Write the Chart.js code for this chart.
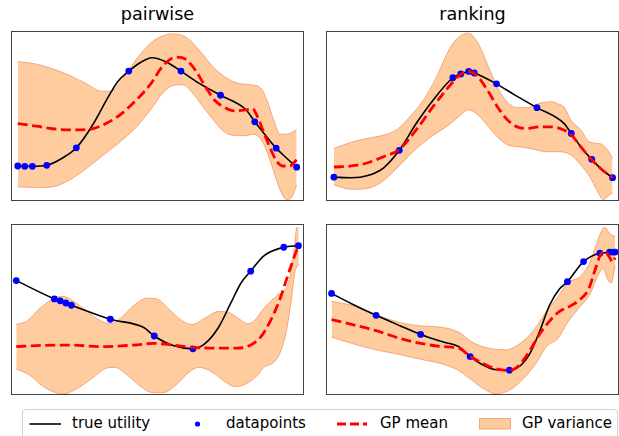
<!DOCTYPE html>
<html>
<head>
<meta charset="utf-8">
<script src="https://cdn.jsdelivr.net/npm/chart.js@4"></script>
<style>
html,body{margin:0;padding:0;background:#fff;width:619px;height:436px;overflow:hidden;position:relative;font-family:"DejaVu Sans",sans-serif;}
.panel{position:absolute;}
.title{position:absolute;font-size:17.6px;line-height:20px;color:#000;white-space:nowrap;transform:translateX(-50%);}
#legend{position:absolute;left:22px;top:409px;width:596px;height:40px;border:1px solid #d0d0d0;border-radius:4px;background:#fff;box-sizing:border-box;}
.ltxt{position:absolute;font-size:15px;line-height:20px;top:3px;color:#000;white-space:nowrap;}
svg{position:absolute;}
</style>
</head>
<body>
<div class="title" style="left:157.5px;top:4px;">pairwise</div>
<div class="title" style="left:472.5px;top:4px;">ranking</div>
<div class="panel" style="left:7px;top:27px;"><canvas id="tl" width="301" height="178"></canvas></div>
<div class="panel" style="left:322px;top:27px;"><canvas id="tr" width="301" height="178"></canvas></div>
<div class="panel" style="left:7px;top:220px;"><canvas id="bl" width="301" height="179"></canvas></div>
<div class="panel" style="left:322px;top:220px;"><canvas id="br" width="301" height="179"></canvas></div>
<div id="legend">
  <svg style="left:6px;top:0px;" width="34" height="30"><line x1="0.5" y1="14" x2="32" y2="14" stroke="#000" stroke-width="1.6"/></svg>
  <div class="ltxt" style="left:49px;">true utility</div>
  <svg style="left:170px;top:0px;" width="10" height="30"><circle cx="4.5" cy="14" r="2.6" fill="#0000ff"/></svg>
  <div class="ltxt" style="left:203px;">datapoints</div>
  <svg style="left:314px;top:0px;" width="32" height="30"><line x1="0" y1="14" x2="30" y2="14" stroke="#ff0000" stroke-width="2.8" stroke-dasharray="9,4"/></svg>
  <div class="ltxt" style="left:357px;">GP mean</div>
  <svg style="left:456px;top:0px;" width="34" height="30"><rect x="0.5" y="8.5" width="31" height="10.5" fill="rgb(255,204,160)" stroke="rgba(240,150,100,0.8)" stroke-width="1"/></svg>
  <div class="ltxt" style="left:499px;">GP variance</div>
</div>
<script>
// ---------- data (x, y as fractions of each panel's axes range) ----------
// pairwise, top (tl)
const tlDotX  = [0.023,0.047,0.073,0.122,0.223,0.402,0.580,0.715,0.832,0.905,0.975];
const tlDotY  = [0.206,0.204,0.204,0.210,0.313,0.764,0.764,0.622,0.466,0.311,0.199];
const tlTrueX = [0.023,0.073,0.122,0.176,0.223,0.276,0.331,0.364,0.402,0.442,0.481,0.530,0.580,0.641,0.715,0.802,0.832,0.868,0.905,0.940,0.975];
const tlTrueY = [0.206,0.204,0.210,0.253,0.313,0.440,0.609,0.702,0.764,0.815,0.843,0.818,0.764,0.693,0.622,0.537,0.466,0.388,0.311,0.253,0.199];
const tlMeanX = [0.023,0.087,0.143,0.198,0.265,0.309,0.364,0.420,0.475,0.519,0.564,0.597,0.630,0.663,0.697,0.730,0.763,0.796,0.824,0.841,0.863,0.885,0.907,0.929,0.951,0.975];
const tlMeanY = [0.455,0.440,0.425,0.418,0.421,0.444,0.496,0.581,0.684,0.796,0.846,0.833,0.768,0.674,0.590,0.549,0.530,0.534,0.543,0.496,0.403,0.309,0.234,0.206,0.206,0.243];
const tlUpX   = [0.023,0.087,0.143,0.198,0.254,0.309,0.342,0.375,0.420,0.464,0.508,0.553,0.597,0.641,0.686,0.730,0.774,0.818,0.852,0.874,0.896,0.918,0.940,0.975];
const tlUpY   = [0.820,0.805,0.777,0.740,0.693,0.646,0.646,0.702,0.815,0.908,0.964,0.983,0.964,0.890,0.796,0.730,0.693,0.684,0.665,0.590,0.478,0.393,0.393,0.418];
const tlLoX   = [0.023,0.087,0.143,0.198,0.254,0.309,0.364,0.420,0.475,0.519,0.553,0.586,0.619,0.652,0.686,0.719,0.752,0.796,0.829,0.852,0.874,0.896,0.918,0.940,0.957,0.975];
const tlLoY   = [0.084,0.079,0.084,0.122,0.187,0.262,0.337,0.421,0.534,0.637,0.680,0.684,0.637,0.562,0.487,0.421,0.388,0.384,0.393,0.365,0.290,0.178,0.066,0.009,0.019,0.094];
// ranking, top (tr)
const trDotX  = [0.027,0.250,0.433,0.460,0.487,0.506,0.582,0.720,0.837,0.907,0.978];
const trDotY  = [0.140,0.298,0.725,0.747,0.762,0.753,0.689,0.549,0.397,0.245,0.137];
const trTrueX = [0.027,0.087,0.143,0.198,0.250,0.309,0.364,0.433,0.460,0.487,0.506,0.582,0.641,0.720,0.813,0.837,0.874,0.907,0.940,0.978];
const trTrueY = [0.140,0.137,0.150,0.197,0.298,0.459,0.590,0.725,0.747,0.762,0.753,0.689,0.627,0.549,0.455,0.397,0.309,0.245,0.187,0.137];
const trMeanX = [0.027,0.087,0.143,0.198,0.250,0.309,0.364,0.420,0.453,0.486,0.519,0.553,0.586,0.619,0.652,0.686,0.730,0.774,0.807,0.835,0.874,0.907,0.940,0.978];
const trMeanY = [0.200,0.206,0.225,0.262,0.303,0.421,0.552,0.674,0.736,0.762,0.730,0.646,0.552,0.478,0.436,0.427,0.436,0.436,0.421,0.393,0.309,0.243,0.187,0.137];
const trUpX   = [0.027,0.087,0.143,0.198,0.243,0.287,0.331,0.375,0.420,0.453,0.486,0.519,0.553,0.586,0.619,0.652,0.686,0.730,0.774,0.791,0.813,0.835,0.868,0.901,0.935,0.957,0.978];
const trUpY   = [0.309,0.346,0.369,0.388,0.421,0.496,0.590,0.721,0.890,0.964,0.987,0.927,0.796,0.665,0.581,0.549,0.549,0.575,0.584,0.571,0.552,0.478,0.421,0.346,0.337,0.309,0.253];
const trLoX   = [0.027,0.087,0.143,0.198,0.254,0.309,0.364,0.420,0.453,0.486,0.519,0.553,0.586,0.619,0.663,0.708,0.752,0.791,0.835,0.868,0.901,0.924,0.946,0.968,0.978];
const trLoY   = [0.094,0.069,0.075,0.122,0.215,0.309,0.384,0.449,0.496,0.537,0.506,0.440,0.375,0.331,0.318,0.305,0.290,0.290,0.272,0.215,0.140,0.066,0.009,0.037,0.047];
// pairwise, bottom (bl)
const blDotX  = [0.018,0.148,0.168,0.187,0.206,0.339,0.489,0.621,0.818,0.931,0.981];
const blDotY  = [0.669,0.562,0.551,0.538,0.525,0.443,0.345,0.270,0.724,0.864,0.873];
const blTrueX = [0.018,0.148,0.206,0.339,0.453,0.489,0.553,0.621,0.663,0.708,0.752,0.785,0.818,0.863,0.931,0.981];
const blTrueY = [0.669,0.562,0.525,0.443,0.395,0.345,0.289,0.270,0.302,0.395,0.544,0.655,0.724,0.814,0.864,0.873];
const blMeanX = [0.018,0.087,0.198,0.309,0.420,0.486,0.553,0.619,0.697,0.774,0.818,0.852,0.885,0.918,0.940,0.962,0.981];
const blMeanY = [0.283,0.289,0.292,0.283,0.292,0.302,0.292,0.279,0.274,0.274,0.292,0.339,0.432,0.562,0.674,0.786,0.873];
const blUpX   = [0.018,0.054,0.099,0.143,0.176,0.209,0.254,0.298,0.339,0.375,0.420,0.464,0.497,0.542,0.586,0.619,0.663,0.708,0.741,0.774,0.807,0.829,0.863,0.907,0.940,0.957,0.968,0.976,0.982];
const blUpY   = [0.413,0.432,0.507,0.562,0.577,0.553,0.497,0.441,0.417,0.451,0.525,0.566,0.562,0.497,0.432,0.413,0.451,0.488,0.484,0.451,0.417,0.432,0.507,0.581,0.628,0.730,0.879,0.981,0.972];
const blLoX   = [0.018,0.065,0.110,0.154,0.182,0.220,0.276,0.320,0.353,0.398,0.442,0.486,0.519,0.564,0.608,0.641,0.686,0.730,0.763,0.796,0.841,0.863,0.896,0.918,0.940,0.957,0.968,0.982];
const blLoY   = [0.153,0.115,0.050,0.013,0.007,0.032,0.097,0.153,0.162,0.115,0.050,0.013,0.013,0.060,0.134,0.162,0.134,0.078,0.050,0.060,0.115,0.162,0.190,0.246,0.376,0.562,0.711,0.767];
// ranking, bottom (br)
const brDotX  = [0.019,0.171,0.323,0.492,0.626,0.824,0.879,0.935,0.968,0.979,0.987];
const brDotY  = [0.594,0.466,0.354,0.225,0.145,0.663,0.780,0.829,0.836,0.836,0.836];
const brTrueX = [0.019,0.087,0.171,0.254,0.323,0.398,0.453,0.492,0.530,0.575,0.626,0.663,0.697,0.730,0.763,0.796,0.824,0.879,0.935,0.987];
const brTrueY = [0.594,0.534,0.466,0.404,0.354,0.311,0.283,0.225,0.181,0.149,0.145,0.171,0.246,0.376,0.525,0.618,0.663,0.780,0.829,0.836];
const brMeanX = [0.019,0.087,0.171,0.254,0.323,0.398,0.453,0.492,0.530,0.575,0.626,0.663,0.697,0.730,0.763,0.796,0.829,0.863,0.896,0.918,0.935,0.951,0.968,0.979,0.987];
const brMeanY = [0.441,0.413,0.376,0.330,0.302,0.283,0.274,0.227,0.190,0.156,0.143,0.181,0.264,0.358,0.432,0.488,0.516,0.553,0.618,0.730,0.814,0.842,0.804,0.777,0.804];
const brUpX   = [0.019,0.087,0.171,0.254,0.323,0.398,0.453,0.497,0.553,0.614,0.663,0.708,0.752,0.791,0.824,0.868,0.901,0.924,0.951,0.968,0.987];
const brUpY   = [0.547,0.525,0.469,0.423,0.404,0.395,0.367,0.311,0.274,0.264,0.302,0.376,0.488,0.572,0.655,0.693,0.777,0.888,0.981,0.944,0.926];
const brLoX   = [0.019,0.087,0.171,0.254,0.323,0.398,0.453,0.497,0.542,0.580,0.630,0.674,0.719,0.752,0.791,0.824,0.857,0.901,0.924,0.946,0.962,0.973,0.987];
const brLoY   = [0.339,0.302,0.264,0.236,0.209,0.181,0.143,0.088,0.032,0.007,0.032,0.097,0.190,0.283,0.330,0.423,0.497,0.590,0.683,0.739,0.674,0.655,0.758];

// ---------- drawing ----------
const FILL = 'rgb(255,204,160)';
const EDGE = 'rgba(240,150,100,0.8)';
function pts(xs, ys) { return xs.map((x, i) => ({x: x, y: ys[i]})); }

const frame = {
  id: 'frame',
  afterDraw(chart) {
    const c = chart.ctx, a = chart.chartArea;
    c.save();
    c.strokeStyle = '#444';
    c.lineWidth = 1;
    c.strokeRect(a.left + 0.5, a.top + 0.5, a.right - a.left - 1, a.bottom - a.top - 1);
    c.restore();
  }
};

function panel(id, s) {
  new Chart(document.getElementById(id), {
    type: 'line',
    data: {
      datasets: [
        {data: pts(s.upX, s.upY), borderColor: EDGE, borderWidth: 1, backgroundColor: FILL, fill: '+1', pointRadius: 0, cubicInterpolationMode: 'monotone', order: 5},
        {data: pts(s.loX, s.loY), borderColor: EDGE, borderWidth: 1, fill: false, pointRadius: 0, cubicInterpolationMode: 'monotone', order: 4},
        {data: pts(s.trueX, s.trueY), borderColor: '#000', borderWidth: 1.6, fill: false, pointRadius: 0, cubicInterpolationMode: 'monotone', order: 3},
        {data: pts(s.meanX, s.meanY), borderColor: '#ff0000', borderWidth: 2.8, borderDash: [10, 4.5], fill: false, pointRadius: 0, cubicInterpolationMode: 'monotone', order: 1},
        {data: pts(s.dotX, s.dotY), showLine: false, pointRadius: 3.4, pointBackgroundColor: '#0000ff', pointBorderWidth: 0, order: 2}
      ]
    },
    options: {
      responsive: false,
      animation: false,
      devicePixelRatio: 1,
      layout: {padding: 0},
      events: [],
      plugins: {legend: {display: false}, tooltip: {enabled: false}},
      scales: {
        x: {type: 'linear', min: 0, max: 1, display: false},
        y: {type: 'linear', min: 0, max: 1, display: false}
      }
    },
    plugins: [frame]
  });
}

panel('tl', {dotX: tlDotX, dotY: tlDotY, trueX: tlTrueX, trueY: tlTrueY, meanX: tlMeanX, meanY: tlMeanY, upX: tlUpX, upY: tlUpY, loX: tlLoX, loY: tlLoY});
panel('tr', {dotX: trDotX, dotY: trDotY, trueX: trTrueX, trueY: trTrueY, meanX: trMeanX, meanY: trMeanY, upX: trUpX, upY: trUpY, loX: trLoX, loY: trLoY});
panel('bl', {dotX: blDotX, dotY: blDotY, trueX: blTrueX, trueY: blTrueY, meanX: blMeanX, meanY: blMeanY, upX: blUpX, upY: blUpY, loX: blLoX, loY: blLoY});
panel('br', {dotX: brDotX, dotY: brDotY, trueX: brTrueX, trueY: brTrueY, meanX: brMeanX, meanY: brMeanY, upX: brUpX, upY: brUpY, loX: brLoX, loY: brLoY});
</script>
</body>
</html>
